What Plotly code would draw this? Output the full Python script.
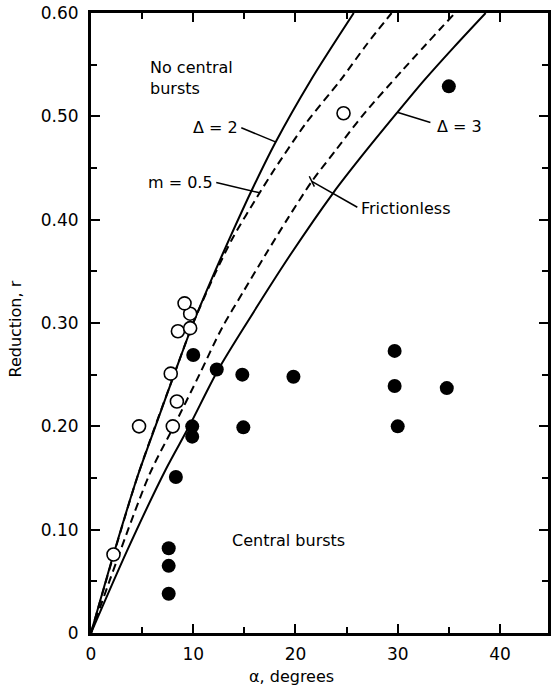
import plotly.graph_objects as go

# ---- data ----
# Open circles: no central bursts observed
open_alpha = [2.2, 4.7, 8.0, 8.4, 7.8, 8.5, 9.7, 9.7, 9.15, 24.7]
open_r = [0.076, 0.200, 0.200, 0.224, 0.251, 0.292, 0.295, 0.309, 0.319, 0.503]

# Filled circles: central bursts observed
fill_alpha = [7.6, 7.6, 7.6, 8.3, 9.9, 9.9, 10.0, 12.3, 14.8, 14.9, 19.8, 29.7, 29.7, 30.0, 34.8, 35.0]
fill_r = [0.038, 0.065, 0.082, 0.151, 0.190, 0.200, 0.269, 0.255, 0.250, 0.199, 0.248, 0.273, 0.239, 0.200, 0.237, 0.529]

# Boundary curves
d2_alpha = [0, 2.2, 4.5, 6.3, 8.2, 10.0, 12.0, 13.7, 15.7, 18.0, 21.5, 25.7]
d2_r = [0, 0.076, 0.150, 0.200, 0.252, 0.300, 0.347, 0.385, 0.428, 0.474, 0.535, 0.600]

m05_alpha = [0, 4.5, 8.2, 10.0, 12.1, 13.9, 16.5, 17.9, 21.0, 24.4, 27.0, 29.4]
m05_r = [0, 0.150, 0.252, 0.300, 0.347, 0.383, 0.426, 0.448, 0.493, 0.535, 0.570, 0.600]

fr_alpha = [0, 5.7, 8.1, 10.6, 12.8, 15.0, 17.0, 19.3, 21.6, 24.0, 26.5, 30.5, 35.6]
fr_r = [0, 0.153, 0.200, 0.250, 0.295, 0.332, 0.365, 0.402, 0.437, 0.468, 0.500, 0.545, 0.600]

d3_alpha = [0, 3.5, 7.3, 9.6, 12.4, 15.3, 19.5, 23.7, 26.2, 29.9, 32.6, 35.5, 38.6]
d3_r = [0, 0.079, 0.158, 0.200, 0.254, 0.301, 0.366, 0.426, 0.458, 0.503, 0.535, 0.567, 0.600]

x_ticks = [0, 10, 20, 30, 40]
x_ticktext = ["0", "10", "20", "30", "40"]
y_ticks = [0, 0.1, 0.2, 0.3, 0.4, 0.5, 0.6]
y_ticktext = ["0", "0.10", "0.20", "0.30", "0.40", "0.50", "0.60"]

FONT = "DejaVu Sans"

fig = go.Figure()

line_solid = dict(color="black", width=2, shape="spline", smoothing=0.8)
line_dash = dict(color="black", width=2, dash="8px,5px", shape="spline", smoothing=0.8)

fig.add_trace(go.Scatter(x=d2_alpha, y=d2_r, mode="lines", line=line_solid, name="Δ = 2"))
fig.add_trace(go.Scatter(x=m05_alpha, y=m05_r, mode="lines", line=line_dash, name="m = 0.5"))
fig.add_trace(go.Scatter(x=fr_alpha, y=fr_r, mode="lines", line=line_dash, name="Frictionless"))
fig.add_trace(go.Scatter(x=d3_alpha, y=d3_r, mode="lines", line=line_solid, name="Δ = 3"))

fig.add_trace(go.Scatter(x=open_alpha, y=open_r, mode="markers",
                         marker=dict(symbol="circle", size=13, color="white",
                                     line=dict(color="black", width=1.6)),
                         name="No central bursts"))
fig.add_trace(go.Scatter(x=fill_alpha, y=fill_r, mode="markers",
                         marker=dict(symbol="circle", size=14, color="black",
                                     line=dict(color="black", width=0)),
                         name="Central bursts"))

tfont = dict(family=FONT, size=16, color="black")

annotations = [
    dict(x=5.6, y=0.537, text="No central<br>bursts", xanchor="left", yanchor="middle", align="left"),
    dict(x=14.6, y=0.489, text="Δ = 2", xanchor="right", yanchor="middle"),
    dict(x=12.15, y=0.436, text="m = 0.5", xanchor="right", yanchor="middle"),
    dict(x=26.2, y=0.411, text="Frictionless", xanchor="left", yanchor="middle"),
    dict(x=33.6, y=0.490, text="Δ = 3", xanchor="left", yanchor="middle"),
    dict(x=13.6, y=0.090, text="Central bursts", xanchor="left", yanchor="middle"),
]
for a in annotations:
    a.update(xref="x", yref="y", showarrow=False, font=tfont)

W, H = 552, 689
ML, MR, MT, MB = 91, 1, 13, 56
pw, ph = W - ML - MR, H - MT - MB

def px_to_paper_x(px):
    return (px - ML) / pw

def px_to_paper_y(py):
    return 1 - (py - MT) / ph

annotations.append(dict(xref="paper", yref="paper", x=px_to_paper_x(15), y=px_to_paper_y(329),
                        text="Reduction, r", textangle=-90, showarrow=False, font=tfont,
                        xanchor="center", yanchor="middle"))
annotations.append(dict(xref="paper", yref="paper", x=px_to_paper_x(293), y=px_to_paper_y(676),
                        text="α, degrees", showarrow=False, font=tfont,
                        xanchor="center", yanchor="middle"))

lw = dict(color="black", width=1.5)
shapes = [
    dict(type="line", xref="x", yref="y", x0=14.7, y0=0.489, x1=18.1, y1=0.475, line=lw),
    dict(type="line", xref="x", yref="y", x0=12.25, y0=0.436, x1=16.5, y1=0.426, line=lw),
    dict(type="line", xref="x", yref="y", x0=26.05, y0=0.412, x1=21.6, y1=0.437, line=lw),
    dict(type="line", xref="x", yref="y", x0=21.35, y0=0.442, x1=21.85, y1=0.432, line=lw),
    dict(type="line", xref="x", yref="y", x0=33.2, y0=0.494, x1=29.95, y1=0.504, line=lw),
]

axis_common = dict(
    showline=True, linewidth=3, linecolor="black", mirror="ticks",
    ticks="inside", ticklen=9, tickwidth=2, tickcolor="black",
    showgrid=False, zeroline=False, ticklabeloverflow="allow",
    tickfont=dict(family=FONT, size=17, color="black"),
)

fig.update_layout(
    width=W, height=H,
    margin=dict(l=ML, r=MR, t=MT, b=MB),
    paper_bgcolor="white", plot_bgcolor="white",
    showlegend=False,
    annotations=annotations,
    shapes=shapes,
    xaxis=dict(range=[0, 44.7], tickvals=x_ticks, ticktext=x_ticktext,
               minor=dict(ticks="inside", tickvals=[5, 15, 25, 35], ticklen=6, tickwidth=2, tickcolor="black"),
               ticklabelstandoff=4, **axis_common),
    yaxis=dict(range=[0, 0.6], tickvals=y_ticks, ticktext=y_ticktext,
               minor=dict(ticks="inside", tickvals=[0.05, 0.15, 0.25, 0.35, 0.45, 0.55], ticklen=6, tickwidth=2, tickcolor="black"),
               ticklabelstandoff=6, **axis_common),
)

fig.write_html("out.html", config={"displayModeBar": False},
               post_script="document.body.style.margin='0';document.body.style.overflow='hidden';")
